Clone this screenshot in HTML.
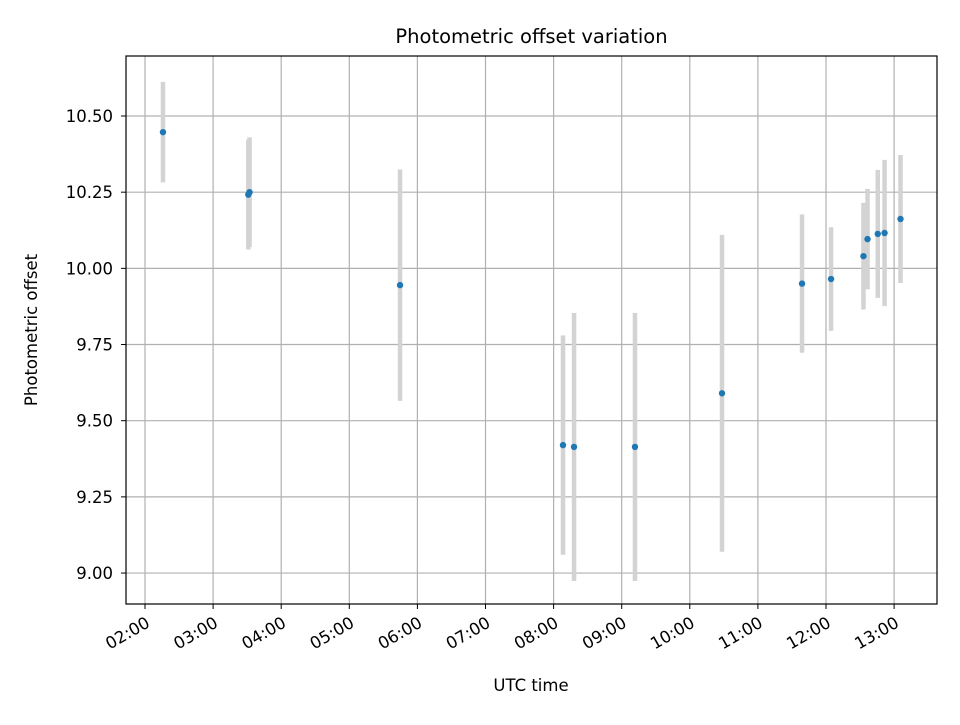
<!DOCTYPE html>
<html><head><meta charset="utf-8"><style>
body{margin:0;background:#fff;font-family:"Liberation Sans","DejaVu Sans",sans-serif;}
svg text{font-family:"DejaVu Sans","Liberation Sans",sans-serif;}
</style></head><body>
<svg id="chart" width="960" height="720" xmlns="http://www.w3.org/2000/svg"></svg>
<script>
const timesH=[2.264,3.517,3.535,5.745,8.138,8.30,9.195,10.473,11.648,12.074,12.55,12.61,12.76,12.86,13.094];
const offsets=[10.447,10.242,10.25,9.945,9.42,9.414,9.414,9.59,9.95,9.965,10.04,10.096,10.113,10.116,10.162];
const errors=[0.165,0.18,0.18,0.38,0.36,0.44,0.44,0.52,0.227,0.17,0.175,0.165,0.21,0.24,0.21];
const xTicks=[2,3,4,5,6,7,8,9,10,11,12,13];
const xTickLabels=["02:00","03:00","04:00","05:00","06:00","07:00","08:00","09:00","10:00","11:00","12:00","13:00"];
const yTicks=[9.0,9.25,9.5,9.75,10.0,10.25,10.5];
const yTickLabels=["9.00","9.25","9.50","9.75","10.00","10.25","10.50"];

const L=126,R=937,T=56,B=604;
const X=h=>145+(h-2)*68.1;
const Y=v=>116+(10.5-v)*304.7;
const svg=document.getElementById('chart');
const NS='http://www.w3.org/2000/svg';
function mk(tag,attrs,parent){const e=document.createElementNS(NS,tag);for(const k in attrs)e.setAttribute(k,attrs[k]);(parent||svg).appendChild(e);return e;}

const grid=mk('g',{});


xTicks.forEach((t,i)=>{
  const x=X(t);
  const gl=mk('line',{x1:x,x2:x,y1:T,y2:B,stroke:'#b0b0b0','stroke-width':1.2},grid);
  
  
  const tk=mk('line',{x1:x,x2:x,y1:B,y2:B+5,stroke:'#000','stroke-width':1});
  
  
  const tx=mk('text',{x:x+6,y:B+22,'font-size':16.5,'text-anchor':'end',transform:`rotate(-30 ${x+6} ${B+22})`});
  tx.textContent=xTickLabels[i];
  
  
});
yTicks.forEach((v,i)=>{
  const y=Y(v);
  const gl=mk('line',{x1:L,x2:R,y1:y,y2:y,stroke:'#b0b0b0','stroke-width':1.2},grid);
  
  
  const tk=mk('line',{x1:L-5,x2:L,y1:y,y2:y,stroke:'#000','stroke-width':1});
  
  
  const tx=mk('text',{x:L-13,y:y+6,'font-size':16.5,'text-anchor':'end'});
  tx.textContent=yTickLabels[i];
  
  
});
const eb=mk('g',{});


timesH.forEach((t,i)=>{
  const l=mk('line',{x1:X(t),x2:X(t),y1:Y(offsets[i]+errors[i]),y2:Y(offsets[i]-errors[i]),stroke:'#d3d3d3','stroke-width':4.5},eb);
  
  
});
const pts=mk('g',{});


timesH.forEach((t,i)=>{
  const c=mk('circle',{cx:X(t),cy:Y(offsets[i]),r:3.2,fill:'#1f77b4'},pts);
  
  
});
const fr=mk('rect',{x:L,y:T,width:R-L,height:B-T,fill:'none',stroke:'#000','stroke-width':1.2});


const ti=mk('text',{x:(L+R)/2,y:43,'font-size':19.5,'text-anchor':'middle'});
ti.textContent='Photometric offset variation';


const xl=mk('text',{x:531,y:691,'font-size':16.5,'text-anchor':'middle'});
xl.textContent='UTC time';


const yl=mk('text',{x:37,y:330,'font-size':16.5,'text-anchor':'middle',transform:'rotate(-90 37 330)'});
yl.textContent='Photometric offset';


</script>
</body></html>
